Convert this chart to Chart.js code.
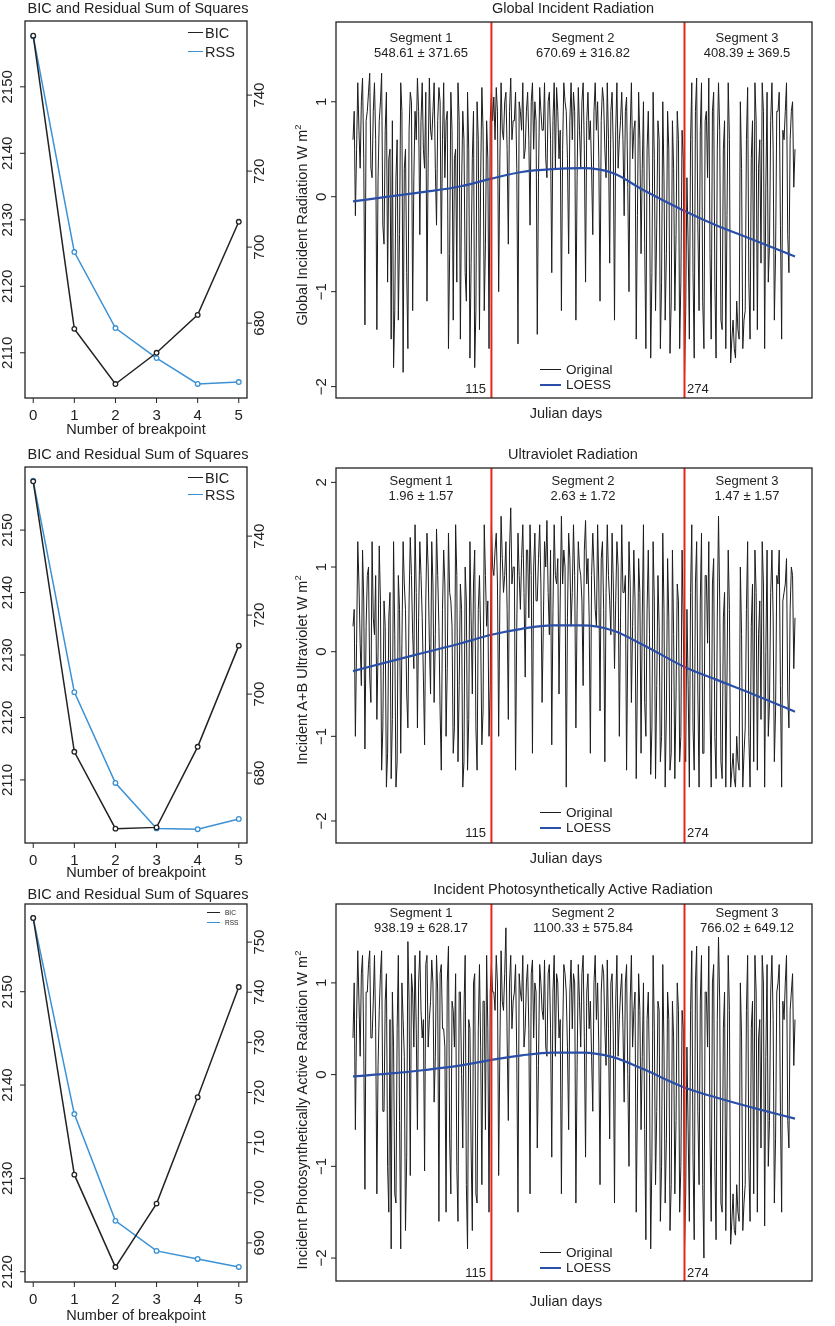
<!DOCTYPE html>
<html><head><meta charset="utf-8">
<script src="https://cdn.jsdelivr.net/npm/chart.js@4.4.0/dist/chart.umd.min.js"></script>
<style>
body{margin:0;background:#fff;width:835px;height:1326px;position:relative;overflow:hidden;font-family:"Liberation Sans",Arial,sans-serif;color:#222}
canvas{position:absolute}
.t{position:absolute;white-space:nowrap;line-height:1;transform:translate(-50%,-50%)}
.l{transform:translate(0,-50%)}
.r{transform:translate(-100%,-50%)}
.rot{transform:translate(-50%,-50%) rotate(-90deg)}
.ln{position:absolute;height:0}
sup{font-size:65%;vertical-align:top;position:relative;top:-2px}
</style></head><body>
<script>
// ---------- data ----------
const breakpoints = [0,1,2,3,4,5];
const bic1 = [2157.7,2113.6,2105.3,2110.0,2115.7,2129.7];
const rss1 = [755.5,698.7,678.7,670.8,664.0,664.5];
const bic2 = [2157.8,2114.5,2102.2,2102.4,2115.3,2131.5];
const rss2 = [754.0,700.5,677.5,666.0,665.8,668.4];
const bic3 = [2157.9,2130.4,2120.5,2127.3,2138.7,2150.5];
const rss3 = [754.8,715.7,694.4,688.4,686.8,685.2];

const loessDays = [1,30,60,90,115,140,165,190,215,240,274,300,330,365];
const girLoess = [-0.05,0.0,0.05,0.11,0.19,0.26,0.29,0.30,0.25,0.07,-0.15,-0.30,-0.45,-0.63];
const uvLoess  = [-0.23,-0.12,-0.01,0.10,0.20,0.27,0.31,0.31,0.25,0.08,-0.18,-0.33,-0.50,-0.71];
const parLoess = [-0.02,0.01,0.05,0.10,0.16,0.21,0.24,0.24,0.19,0.06,-0.14,-0.25,-0.36,-0.48];

const girSeg1 = [0.6,-0.2,1.2,0.3,1.25,-1.35,0.9,1.3,0.2,1.2,-1.4,0.8,1.3,-0.5,1.1,0.4,-1.5,-1.8,0.2,-1.3,1.2,-1.85,0.5,-1.6,1.1,-1.2,0.9,1.25,-0.4,1.2,0.3,-1.1,1.25,0.6,1.2,-0.3,1.15,-0.6,1.2,0.8,-1.6,1.1,-1.3,0.5,1.2,-1.5,0.9,-0.8,1.1,-1.7,0.4,-1.8,1.0,-1.4,1.15,-1.2,0.8,-1.6];
const girSeg1b = [0.9,0.5,0.7,1.0,0.4,0.8,1.1,0.3,0.9,0.6,0.2,1.0,-0.3,0.7,-0.9,0.5,0.8,-1.2,0.6,-0.4,0.9,0.3,-0.8,0.7,1.0,0.2,0.6,0.9,0.8,0.5,1.1,0.4,0.7,0.9,0.3,0.8,1.0,0.6,0.2,0.9,-0.6,0.7,0.4,-0.9,0.8,0.1,0.6,-1.1,0.5,-0.7,0.9,-1.2,0.6,0.2,0.7,-0.5,0.4,0.8];
const girSeg2 = [1.1,1.05,1.15,-1.0,1.2,0.6,1.1,-0.5,1.25,0.8,1.1,-1.55,0.9,1.2,0.5,1.1,-0.3,1.2,1.0,-1.45,1.15,0.7,1.2,0.2,1.1,-0.8,1.2,1.15,0.4,-1.2,1.2,0.9,-0.6,1.2,1.1,-1.3,1.15,0.3,1.2,-0.9,1.1,0.8,-0.4,1.2,1.0,-1.1,1.15,0.5,1.2,-0.7,1.1,-1.3,1.2,0.6,1.1,-0.2,1.05,-1.0,1.2,0.7,-1.5,1.1,-0.6,1.0,-1.6,0.9,-1.7,1.1,-1.2,0.8,-1.6,1.0,-1.3,0.9,-1.65,0.8,-1.2,0.9,-1.6,0.7];
const girSeg2b = [0.8,0.6,0.9,0.4,0.7,1.0,0.5,0.9,0.6,0.8,0.3,1.0,0.7,0.4,0.9,0.6,1.0,0.5,0.8,0.2,0.9,0.7,0.4,1.0,0.6,0.8,0.3,0.9,0.7,0.5,1.0,0.4,0.8,0.6,0.9,0.2,0.7,1.0,0.5,0.8,0.6,0.3,0.9,0.7,0.4,0.8,1.0,0.2,0.6,0.9,0.5,0.7,0.3,0.8,0.6,0.9,0.1,0.7,0.4,0.8,-0.2,0.6,0.3,-0.5,0.5,0.1,-0.8,0.4,-0.3,0.6,-0.9,0.2,-0.6,0.5,-1.1,0.3,-0.4,0.6,-0.9,0.4];
const girSeg3 = [-1.9,0.2,-1.5,1.2,-1.7,1.25,-1.2,1.2,-1.6,0.9,1.25,-1.5,1.1,-1.7,1.2,-1.3,0.5,-1.6,1.2,-1.75,-1.3,-1.7,-1.4,1.0,-1.6,-1.2,1.15,-1.5,0.8,1.2,-1.4,0.6,1.2,-1.6,1.1,-0.5,1.2,-1.3,0.9,1.1,-1.5,0.6,1.2,-0.8,0.9,0.1];
const girSeg3b = [-1.2,-0.5,0.6,-0.8,0.9,-0.3,0.7,-1.1,0.8,0.2,-0.6,0.9,-0.9,0.5,0.7,-1.4,0.8,-0.2,0.6,-1.5,-1.6,-1.1,-1.5,0.3,-1.3,0.6,-0.9,0.4,-1.2,0.8,0.3,-0.7,0.9,0.1,-0.9,0.8,0.5,-0.6,0.9,-0.3,0.7,0.9,-0.4,0.6,1.0,0.5];

const uvSeg1 = [0.3,-1.0,1.3,0.1,1.2,-1.15,0.9,-0.3,1.3,0.2,-0.8,1.25,-1.4,0.6,-1.6,0.4,-1.5,1.3,-1.6,0.9,-1.2,1.3,0.5,-0.9,1.35,0.2,1.5,-0.9,1.3,0.4,-1.1,1.4,0.1,1.3,-0.6,1.45,0.3,-1.4,1.2,-1.0,1.4,0.6,-1.2,1.5,-1.3,0.8,-1.6,1.0,-1.4,1.3,-0.5,1.2,-1.4,0.9,-1.1,1.5,0.3,-1.0];
const uvSeg1b = [0.5,0.1,0.8,-0.4,0.6,0.3,1.0,-0.6,0.4,0.9,0.0,0.6,-0.9,0.3,-1.2,0.7,-0.8,0.2,-1.3,0.5,0.1,0.8,-0.5,0.6,0.9,-0.2,0.7,0.4,0.9,-0.3,0.6,1.0,-0.5,0.8,0.2,0.9,-0.7,0.5,0.8,-0.2,0.7,0.3,-0.9,0.9,-0.4,0.5,-1.3,0.6,-0.8,0.4,0.8,-0.9,0.5,0.2,-0.7,0.9,0.6,-0.4];
const uvSeg2 = [1.5,0.9,1.4,-1.0,1.6,0.7,1.3,-0.8,1.7,1.0,-1.4,1.4,0.5,1.5,-0.3,1.2,1.5,-1.2,1.4,0.6,1.5,-0.6,1.3,1.55,0.2,-1.1,1.5,0.8,-0.5,1.6,1.2,-1.6,1.4,0.3,1.5,-0.9,1.3,0.9,-0.4,1.55,1.1,-1.2,1.4,0.5,1.5,-0.7,1.3,-1.3,1.5,0.6,1.4,-0.2,1.3,-1.0,1.5,0.7,-1.4,1.3,-0.6,1.2,-1.5,1.1,-1.2,1.5,-1.0,1.2,-1.45,1.3,-1.5,0.9,-1.3,1.4,-1.6,1.1,-1.4,1.2,-1.5,0.8,-1.3,1.2];
const uvSeg2b = [1.0,1.2,0.8,0.6,1.1,0.9,0.5,1.2,0.8,1.0,0.3,0.9,1.1,0.7,1.2,0.4,0.9,1.0,0.6,1.1,0.8,0.3,1.0,0.7,1.2,0.5,0.9,1.1,0.6,0.8,1.0,0.4,1.1,0.7,0.9,0.5,1.0,0.6,1.2,0.8,0.4,0.9,1.0,0.3,0.8,1.1,0.5,0.7,0.9,0.2,0.8,0.6,1.0,0.4,0.7,0.9,0.1,0.8,0.3,0.6,-0.3,0.7,0.4,-0.6,0.5,0.2,-0.9,0.6,-0.4,0.3,-1.0,0.5,-0.7,0.4,-1.2,0.2,-0.5,0.6,-1.0,0.3];
const uvSeg3 = [-1.0,0.5,-1.6,1.5,-1.4,1.3,-1.6,1.4,-1.2,0.9,1.3,-1.6,1.1,-1.5,1.6,-1.3,0.4,-1.6,1.2,-1.6,-1.2,-1.6,-1.3,1.0,-1.6,-0.9,1.3,-1.6,0.8,1.2,-1.4,0.6,1.3,-1.6,1.2,-0.6,1.2,-1.3,0.9,1.2,-1.6,0.7,1.1,-0.9,1.0,-0.2];
const uvSeg3b = [-1.3,-0.4,0.7,-0.9,0.8,-0.5,0.6,-1.2,0.9,0.1,-0.7,0.8,-1.0,0.4,0.6,-1.5,0.7,-0.3,0.5,-1.4,-1.5,-1.0,-1.4,0.2,-1.2,0.5,-1.0,0.3,-1.3,0.7,0.2,-0.8,0.8,0.0,-1.0,0.7,0.4,-0.7,0.8,-0.4,0.6,0.8,-0.5,0.5,0.9,0.4];

const parSeg1 = [0.4,-0.6,1.35,0.2,1.3,-1.25,0.9,1.35,0.4,1.3,-1.3,0.7,1.35,-0.4,1.1,-1.5,-1.9,0.3,-1.4,1.3,-1.9,0.6,-1.7,1.45,-1.1,0.9,1.3,-0.6,1.35,0.4,-1.05,1.3,0.6,1.25,-0.3,1.3,-1.6,1.2,0.5,-1.5,1.4,-1.3,0.7,1.1,-1.6,0.9,-0.8,1.3,-1.9,0.5,-1.7,1.1,-1.4,1.2,-1.2,0.8,1.3,-1.5];
const parSeg1b = [1.0,0.6,0.8,1.1,0.3,0.9,1.2,0.4,0.8,0.5,0.1,1.1,-0.4,0.8,-1.0,0.6,0.9,-1.3,0.5,-0.5,1.0,0.2,-0.9,0.8,1.1,0.3,0.5,1.0,0.7,0.6,1.2,0.3,0.8,1.0,0.2,0.9,1.1,0.5,0.3,1.0,-0.7,0.8,0.3,-1.0,0.9,0.0,0.7,-1.2,0.6,-0.8,1.0,-1.3,0.5,0.3,0.8,-0.6,0.5,0.9];
const parSeg2 = [1.2,0.9,1.3,-1.1,1.35,0.7,1.6,-0.5,1.3,0.8,1.2,-1.5,0.9,1.3,0.5,1.2,-1.3,1.25,1.0,-0.8,1.2,0.7,1.25,0.2,1.2,-0.9,1.3,1.1,0.4,-1.3,1.2,0.9,-0.6,1.25,1.1,-1.4,1.2,0.3,1.3,-0.9,1.1,0.8,-0.4,1.3,1.0,-1.2,1.2,0.5,1.25,-0.7,1.1,-1.4,1.3,0.6,1.1,-0.3,1.2,-1.0,1.3,0.7,-1.5,1.1,-0.6,1.0,-1.8,0.9,-1.9,1.3,-1.2,0.8,-1.6,1.2,-1.4,0.9,-1.7,0.8,-1.3,1.0,-1.5,0.7];
const parSeg2b = [0.9,0.7,1.0,0.3,0.8,1.1,0.4,1.0,0.5,0.9,0.2,1.1,0.8,0.3,1.0,0.5,1.1,0.4,0.9,0.1,1.0,0.6,0.3,1.1,0.5,0.9,0.2,1.0,0.6,0.4,1.1,0.3,0.9,0.5,1.0,0.1,0.8,1.1,0.4,0.9,0.5,0.2,1.0,0.6,0.3,0.9,1.1,0.1,0.5,1.0,0.4,0.8,0.2,0.9,0.5,1.0,0.0,0.8,0.3,0.9,-0.3,0.7,0.2,-0.6,0.6,0.0,-0.9,0.5,-0.4,0.7,-1.0,0.3,-0.7,0.6,-1.2,0.4,-0.5,0.7,-1.0,0.5];
const parSeg3 = [-1.9,0.3,-1.6,1.35,-1.8,1.4,-1.2,1.3,-2.0,0.9,1.4,-1.6,1.2,-1.8,1.5,-1.4,0.5,-1.7,1.3,-1.85,-1.3,-1.75,-1.5,1.0,-1.7,-1.2,1.3,-1.6,0.8,1.3,-1.5,0.6,1.3,-1.65,1.2,-0.5,1.3,-1.4,0.9,1.2,-1.5,0.6,1.3,-0.8,0.9,0.1];
const parSeg3b = [-1.3,-0.6,0.7,-0.9,1.0,-0.4,0.8,-1.2,0.9,0.3,-0.7,1.0,-1.0,0.6,0.8,-1.5,0.9,-0.3,0.7,-1.6,-1.7,-1.2,-1.6,0.4,-1.4,0.7,-1.0,0.5,-1.3,0.9,0.4,-0.8,1.0,0.2,-1.0,0.9,0.6,-0.7,1.0,-0.4,0.8,1.0,-0.5,0.7,1.1,0.6];

const segDays = [[1,114],[115,273],[274,365]];
const breakDays = [115,274];
const yTicksGir = [-2,-1,0,1];
const yTicksUv = [-2,-1,0,1,2];
const yTicksPar = [-2,-1,0,1];
const bicTicks12 = [2110,2120,2130,2140,2150];
const rssTicks12 = [680,700,720,740];
const bicTicks3 = [2120,2130,2140,2150];
const rssTicks3 = [690,700,710,720,730,740,750];

// ---------- helpers ----------
function txt(html,x,y,cls,size){const d=document.createElement('div');d.className='t '+(cls||'');d.innerHTML=html;d.style.left=x+'px';d.style.top=y+'px';d.style.fontSize=(size||13)+'px';document.body.appendChild(d);}
function hline(x1,x2,y,color,w){const d=document.createElement('div');d.className='ln';d.style.left=x1+'px';d.style.width=(x2-x1)+'px';d.style.top=(y-w/2)+'px';d.style.borderTop=w+'px solid '+color;document.body.appendChild(d);}
function fmt(v){return v<0?'\u2212'+Math.abs(v):String(v);}
function weave(a,b){const o=[];a.forEach((v,i)=>{o.push(v);if(i<b.length)o.push(b[i]);});return o;}
function series(segs){const pts=[];segs.forEach((vals,k)=>{const [a,b]=segDays[k];vals.forEach((v,i)=>pts.push({x:a+(b-a)*i/(vals.length-1),y:v}));});return pts;}

const deco={id:'deco',afterDatasetsDraw(chart,args,o){
  const ctx=chart.ctx,a=chart.chartArea;ctx.save();
  (o.vlines||[]).forEach(v=>{const px=chart.scales.x.getPixelForValue(v);ctx.strokeStyle='#e8241c';ctx.lineWidth=2;ctx.beginPath();ctx.moveTo(px,a.top);ctx.lineTo(px,a.bottom);ctx.stroke();});
  ctx.strokeStyle='#222';ctx.lineWidth=1.3;ctx.strokeRect(a.left,a.top,a.width,a.height);
  ctx.fillStyle='#222';ctx.font='15px "Liberation Sans", Arial, sans-serif';ctx.lineWidth=1;
  (o.axes||[]).forEach(ax=>{const s=chart.scales[ax.id];
    ax.values.forEach(v=>{const p=s.getPixelForValue(v);ctx.beginPath();
      if(ax.side==='bottom'){ctx.moveTo(p,a.bottom);ctx.lineTo(p,a.bottom+5);ctx.stroke();ctx.textAlign='center';ctx.textBaseline='middle';ctx.fillText(fmt(v),p,a.bottom+ax.off);}
      else{const x0=ax.side==='left'?a.left:a.right,dir=ax.side==='left'?-1:1;ctx.moveTo(x0,p);ctx.lineTo(x0+dir*5,p);ctx.stroke();
        ctx.save();ctx.translate(x0+dir*ax.off,p);ctx.rotate(-Math.PI/2);ctx.textAlign='center';ctx.textBaseline='middle';ctx.fillText(fmt(v),0,0);ctx.restore();}
    });});
  ctx.restore();}};

function mkCanvas(x,y,w,h){const c=document.createElement('canvas');c.width=w;c.height=h;c.style.left=x+'px';c.style.top=y+'px';c.style.width=w+'px';c.style.height=h+'px';document.body.appendChild(c);return c;}

function leftPanel(cy,h,box,bic,rss,bt,rt,ymin,ymax,y2min,y2max){
  const c=mkCanvas(0,cy,290,h);
  new Chart(c,{type:'line',data:{datasets:[
    {data:breakpoints.map((b,i)=>({x:b,y:bic[i]})),borderColor:'#222',borderWidth:1.5,pointRadius:2.3,pointBorderWidth:1.3,pointBackgroundColor:'#fff',pointBorderColor:'#222',yAxisID:'y'},
    {data:breakpoints.map((b,i)=>({x:b,y:rss[i]})),borderColor:'#3b91d4',borderWidth:1.5,pointRadius:2.3,pointBorderWidth:1.3,pointBackgroundColor:'#fff',pointBorderColor:'#3b91d4',yAxisID:'y2'}]},
    options:{responsive:false,animation:false,layout:{padding:{left:box[0],right:290-box[2],top:box[1]-cy,bottom:cy+h-box[3]}},
      plugins:{legend:{display:false},tooltip:{enabled:false},deco:{axes:[{id:'y',side:'left',values:bt,off:17},{id:'y2',side:'right',values:rt,off:13},{id:'x',side:'bottom',values:breakpoints,off:18}]}},
      scales:{x:{type:'linear',display:false,min:-0.2,max:5.2},y:{display:false,min:ymin,max:ymax},y2:{display:false,min:y2min,max:y2max}}},
    plugins:[deco]});
}
function rightPanel(cy,h,box,segs,loess,ticks,ymin,ymax){
  const c=mkCanvas(290,cy,545,h);
  new Chart(c,{type:'line',data:{datasets:[
    {data:loessDays.map((d,i)=>({x:d,y:loess[i]})),borderColor:'#2a4fa8',borderWidth:2.2,pointRadius:0,tension:0.4,cubicInterpolationMode:'monotone'},
    {data:series(segs),borderColor:'#1c1c1c',borderWidth:1,pointRadius:0,tension:0}]},
    options:{responsive:false,animation:false,layout:{padding:{left:box[0]-290,right:835-box[2],top:box[1]-cy,bottom:cy+h-box[3]}},
      plugins:{legend:{display:false},tooltip:{enabled:false},deco:{vlines:breakDays,axes:[{id:'y',side:'left',values:ticks,off:14}]}},
      scales:{x:{type:'linear',display:false,min:-13,max:379},y:{display:false,min:ymin,max:ymax}}},
    plugins:[deco]});
}

// ---------- panels ----------
leftPanel(0,440,[25,21,247,398],bic1,rss1,bicTicks12,rssTicks12,2103.2,2159.9,660.3,759.5);
leftPanel(440,440,[25,467,247,843],bic2,rss2,bicTicks12,rssTicks12,2099.9,2160.1,662.3,757.5);
leftPanel(880,446,[25,904,247,1282],bic3,rss3,bicTicks3,rssTicks3,2118.9,2159.4,682.2,757.6);
rightPanel(0,440,[336,22,812,398],[weave(girSeg1,girSeg1b),weave(girSeg2,girSeg2b),weave(girSeg3,girSeg3b)],girLoess,yTicksGir,-2.12,1.84);
rightPanel(440,440,[336,468,812,843],[weave(uvSeg1,uvSeg1b),weave(uvSeg2,uvSeg2b),weave(uvSeg3,uvSeg3b)],uvLoess,yTicksUv,-2.26,2.17);
rightPanel(880,446,[336,904,812,1281],[weave(parSeg1,parSeg1b),weave(parSeg2,parSeg2b),weave(parSeg3,parSeg3b)],parLoess,yTicksPar,-2.25,1.86);

// ---------- text ----------
[[8,429],[454,872],[894,1315]].forEach(([t,b])=>{txt('BIC and Residual Sum of Squares',138,t,'',14.5);txt('Number of breakpoint',136,b,'',14.5);});
hline(188,203,33,'#222',1.5);txt('BIC',205,33,'l',14.5);hline(188,203,52,'#3b91d4',1.5);txt('RSS',205,52,'l',14.5);
hline(188,203,478,'#222',1.5);txt('BIC',205,478,'l',14.5);hline(188,203,495,'#3b91d4',1.5);txt('RSS',205,495,'l',14.5);
hline(207,220,913,'#222',1.2);txt('BIC',225,913,'l',6.5);hline(207,220,923,'#3b91d4',1.2);txt('RSS',225,923,'l',6.5);

const rights=[
 {title:'Global Incident Radiation',ty:8,yl:'Global Incident Radiation W m<sup>2</sup>',yc:225,seg:['548.61 ± 371.65','670.69 ± 316.82','408.39 ± 369.5'],sy:37,ly:370,by:388,jy:413},
 {title:'Ultraviolet Radiation',ty:454,yl:'Incident A+B Ultraviolet W m<sup>2</sup>',yc:670,seg:['1.96 ± 1.57','2.63 ± 1.72','1.47 ± 1.57'],sy:480,ly:813,by:832,jy:858},
 {title:'Incident Photosynthetically Active Radiation',ty:889,yl:'Incident Photosynthetically Active Radiation W m<sup>2</sup>',yc:1110,seg:['938.19 ± 628.17','1100.33 ± 575.84','766.02 ± 649.12'],sy:912,ly:1253,by:1272,jy:1301}];
const segX=[421,583,747];
rights.forEach(r=>{
  txt(r.title,573,r.ty,'',14.5);
  txt(r.yl,302,r.yc,'rot',14.5);
  r.seg.forEach((s,i)=>{txt('Segment '+(i+1),segX[i],r.sy,'',13);txt(s,segX[i],r.sy+15,'',13);});
  hline(540,561,r.ly,'#1c1c1c',1.5);txt('Original',566,r.ly,'l',13.5);
  hline(540,561,r.ly+15,'#2a4fa8',2.2);txt('LOESS',566,r.ly+15,'l',13.5);
  txt('115',486,r.by,'r',13);txt('274',687,r.by,'l',13);
  txt('Julian days',566,r.jy,'',14.5);
});
</script>
</body></html>
